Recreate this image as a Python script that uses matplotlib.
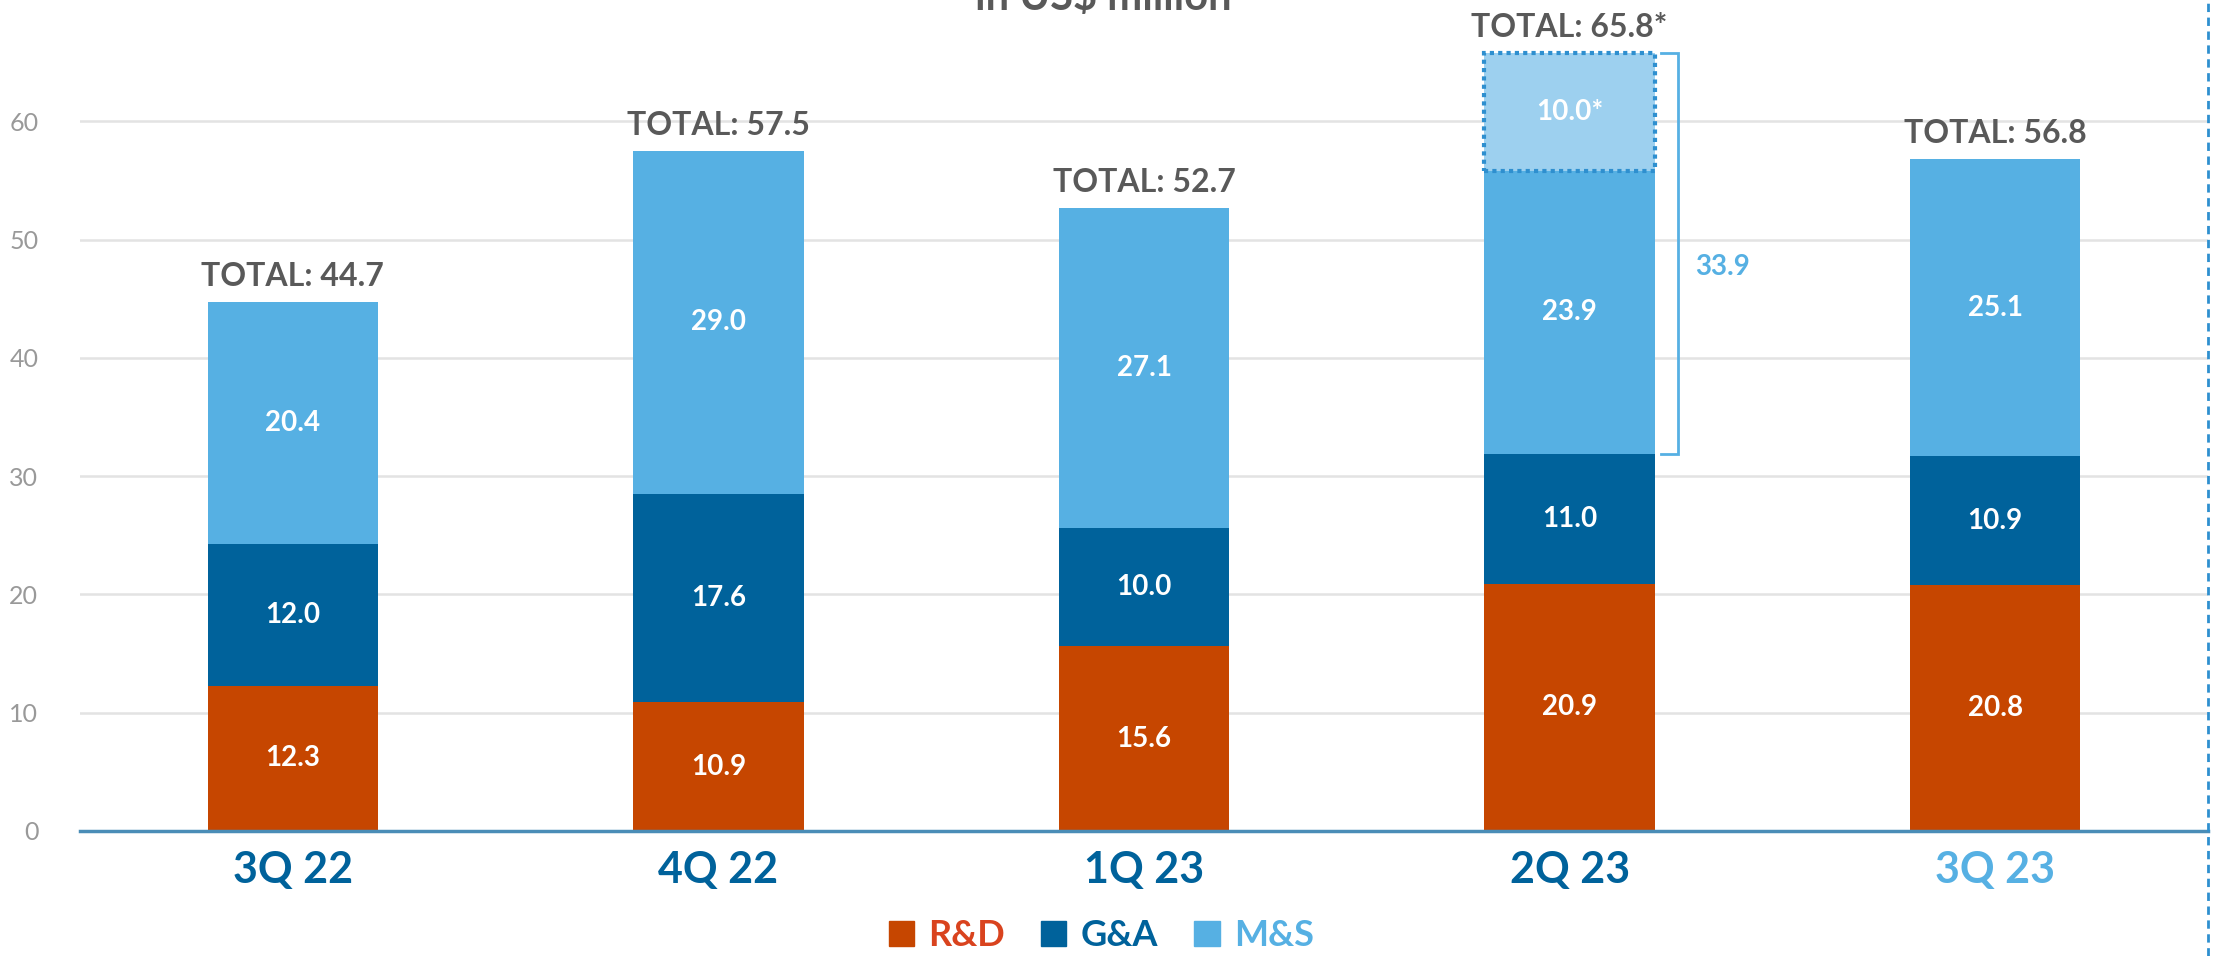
import matplotlib
matplotlib.use("Agg")
import matplotlib.pyplot as plt
from matplotlib.patches import Patch
from matplotlib.lines import Line2D
import numpy as np

quarters = ["3Q 22", "4Q 22", "1Q 23", "2Q 23", "3Q 23"]
rnd = [12.3, 10.9, 15.6, 20.9, 20.8]
gna = [12.0, 17.6, 10.0, 11.0, 10.9]
mns = [20.4, 29.0, 27.1, 23.9, 25.1]
extra_mns = [0, 0, 0, 10.0, 0]
totals = ["44.7", "57.5", "52.7", "65.8*", "56.8"]
bracket_value = "33.9"
series = ["R&D", "G&A", "M&S"]

C_RND = "#C64600"
C_GNA = "#00629B"
C_MNS = "#56B0E3"
C_EXTRA = "#9DD0EF"
C_DOT = "#2E8FCF"
C_TOTAL = "#595959"

plt.rcParams["font.family"] = ["Lato", "DejaVu Sans"]

fig = plt.figure(figsize=(22.16, 9.56), dpi=100)
ax = fig.add_axes([0.0361, 0.1308, 0.9603, 0.8692])

x = np.arange(len(quarters))
w = 0.4
rnd = np.array(rnd)
gna = np.array(gna)
mns = np.array(mns)
extra_mns = np.array(extra_mns)

ax.bar(x, rnd, w, color=C_RND, zorder=3)
ax.bar(x, gna, w, bottom=rnd, color=C_GNA, zorder=3)
ax.bar(x, mns, w, bottom=rnd + gna, color=C_MNS, zorder=3)

# segment labels
for i in range(len(x)):
    bottoms = [0, rnd[i], rnd[i] + gna[i]]
    for b, v in zip(bottoms, [rnd[i], gna[i], mns[i]]):
        ax.text(x[i], b + v / 2, f"{v:.1f}", ha="center", va="center",
                color="white", fontsize=20, fontweight="bold", zorder=5)

# the estimated extra M&S block
for i in range(len(x)):
    if extra_mns[i] > 0:
        base = rnd[i] + gna[i] + mns[i]
        ax.bar(x[i], extra_mns[i], w, bottom=base, color=C_EXTRA,
               edgecolor=C_DOT, linestyle=(0, (1, 1)), linewidth=3, zorder=3)
        ax.text(x[i], base + extra_mns[i] / 2, f"{extra_mns[i]:.1f}*",
                ha="center", va="center", color="white", fontsize=20,
                fontweight="bold", zorder=5)
        # bracket
        y0 = rnd[i] + gna[i]
        y1 = base + extra_mns[i]
        xb0, xb1 = x[i] + w / 2 + 0.015, x[i] + w / 2 + 0.055
        ax.plot([xb0, xb1, xb1, xb0], [y0, y0, y1, y1], color=C_MNS,
                lw=2, zorder=4, solid_joinstyle="miter")
        ax.text(xb1 + 0.04, (y0 + y1) / 2 - 1.2, bracket_value, ha="left",
                va="center", color=C_MNS, fontsize=20, fontweight="bold")

# totals
tops = rnd + gna + mns + extra_mns
for i in range(len(x)):
    ax.annotate(f"TOTAL: {totals[i]}", (x[i], tops[i]), xytext=(0, 8),
                textcoords="offset points", ha="center", va="bottom",
                color=C_TOTAL, fontsize=23, fontweight="bold")

ax.set_xlim(-0.5, len(x) - 0.5)
ax.set_ylim(0, 70.27)
ax.set_yticks(range(0, 70, 10))
ax.tick_params(axis="y", length=0, labelsize=18, labelcolor="#999999", pad=30)
ax.set_xticks(x)
ax.set_xticklabels(quarters, fontsize=31, fontweight="bold")
for lbl, c in zip(ax.get_xticklabels(), [C_GNA] * 4 + [C_MNS]):
    lbl.set_color(c)
ax.tick_params(axis="x", length=0, pad=14)
ax.grid(axis="y", color="#E3E3E3", lw=1.8, zorder=0)
ax.set_axisbelow(True)
for s in ["top", "right", "left"]:
    ax.spines[s].set_visible(False)
ax.spines["bottom"].set_color("#4A8DB7")
ax.spines["bottom"].set_linewidth(2.5)
ax.spines["bottom"].set_zorder(6)

# partly hidden title at the top edge (cut off in the original too)
fig.text(0.498, 1 - 10 / 956, "in US$ million", ha="center", va="baseline",
         fontsize=30, fontweight="bold", color=C_TOTAL)

# dashed frame line on the right
fig.add_artist(Line2D([0.9964, 0.9964], [0, 1], transform=fig.transFigure,
                      color=C_DOT, lw=2, linestyle=(0, (3, 2))))

handles = [Patch(color=c) for c in [C_RND, C_GNA, C_MNS]]
fig.legend(handles, series, loc="center", bbox_to_anchor=(0.497, 0.021),
           ncol=3, frameon=False, handlelength=0.7,
           handleheight=0.7, handletextpad=0.4, columnspacing=1.0,
           labelcolor=["#D9431E", C_GNA, C_MNS],
           prop={"weight": "bold", "size": 26})

fig.savefig("out.png", dpi=100)
